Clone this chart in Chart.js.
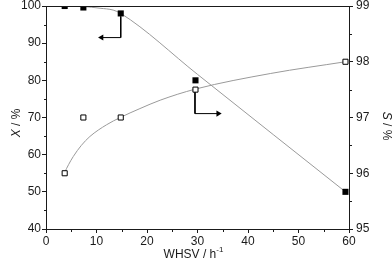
<!DOCTYPE html>
<html><head><meta charset="utf-8">
<script src="https://cdn.jsdelivr.net/npm/chart.js@4/dist/chart.umd.min.js"></script>
<style>html,body{margin:0;padding:0;background:#fff}canvas{display:block}</style>
</head><body><canvas id="c" width="392" height="266"></canvas>
<script>
// ---- data ----
const whsv = [3.7, 7.4, 14.8, 29.6, 59.3];
const conversion = [100, 99.6, 98, 80, 50];          // X / % (left axis)
const selectivity = [96.0, 97.0, 97.0, 97.5, 98.0];   // S / % (right axis)
const fitConvX = [3.7, 7.4, 10.7, 13.3, 14.8, 30, 45, 59.3];
const fitConvY = [100, 99.85, 99.4, 98.9, 98.0, 81.6, 65.4, 50];
const fitSelX = [3.6, 4.5, 5.4, 7.0, 8.7, 12.0, 14.7, 18.6, 22.6, 29.6, 44.5, 59.3];
const fitSelY = [96.0, 96.16, 96.3, 96.5, 96.66, 96.87, 97.0, 97.16, 97.31, 97.51, 97.79, 98.0];
const arrowConvX = [14.8, 14.8, 11.0];
const arrowConvY = [97.2, 91.5, 91.5];
const arrowSelX = [29.5, 29.5, 34.1];
const arrowSelY = [97.47, 97.07, 97.07];
const minorX = [5, 15, 25, 35, 45, 55];
const minorY = [45, 55, 65, 75, 85, 95];
const minorY2 = [95.5, 96.5, 97.5, 98.5];
const xTitle = ['WHSV / h', '-1'];
const yTitle = ['X', ' / %'];
const y2Title = ['S', ' / %'];

const pts = (xs, ys) => xs.map((x, i) => ({x, y: ys[i]}));
const FONT = "'Liberation Sans', Arial, sans-serif";
const INK = '#1a1a1a';

const extras = {
  id: 'extras',
  afterDraw(chart) {
    const {ctx, chartArea: a, scales} = chart;
    const al = v => Math.round(v) + 0.5;
    ctx.save();
    ctx.strokeStyle = INK; ctx.lineWidth = 1;
    ctx.strokeRect(al(a.left), al(a.top), Math.round(a.right) - Math.round(a.left), Math.round(a.bottom) - Math.round(a.top));
    ctx.beginPath();
    minorX.forEach(v => { const p = al(scales.x.getPixelForValue(v)); ctx.moveTo(p, al(a.bottom)); ctx.lineTo(p, al(a.bottom) + 2.5); });
    minorY.forEach(v => { const p = al(scales.y.getPixelForValue(v)); ctx.moveTo(al(a.left), p); ctx.lineTo(al(a.left) - 2.5, p); });
    minorY2.forEach(v => { const p = al(scales.y2.getPixelForValue(v)); ctx.moveTo(al(a.right), p); ctx.lineTo(al(a.right) + 2.5, p); });
    ctx.stroke();
    ctx.fillStyle = INK;
    ctx.textBaseline = 'alphabetic';
    function mixed(parts, cx, cy, rot) {
      ctx.save();
      ctx.translate(cx, cy); ctx.rotate(rot);
      ctx.font = 'italic 12px ' + FONT; const w1 = ctx.measureText(parts[0]).width;
      ctx.font = '12px ' + FONT; const w2 = ctx.measureText(parts[1]).width;
      const x0 = -(w1 + w2) / 2;
      ctx.font = 'italic 12px ' + FONT; ctx.fillText(parts[0], x0, 4);
      ctx.font = '12px ' + FONT; ctx.fillText(parts[1], x0 + w1, 4);
      ctx.restore();
    }
    mixed(yTitle, 16, 123, -Math.PI / 2);
    mixed(y2Title, 387, 126, Math.PI / 2);
    // x title with superscript
    ctx.font = '12px ' + FONT; const w1 = ctx.measureText(xTitle[0]).width;
    ctx.font = '8px ' + FONT; const w2 = ctx.measureText(xTitle[1]).width;
    const cx = (a.left + a.right) / 2 - 4;
    const x0 = cx - (w1 + w2) / 2;
    ctx.font = '12px ' + FONT; ctx.fillText(xTitle[0], x0, 257.5);
    ctx.font = '8px ' + FONT; ctx.fillText(xTitle[1], x0 + w1, 252);
    ctx.restore();
  }
};

const fit = (s, w, h) => { s.width = w === null ? s.width : w; if (h !== null) s.height = h; s.paddingTop = 0; s.paddingBottom = 0; s.paddingLeft = 0; s.paddingRight = 0; };

new Chart(document.getElementById('c'), {
  type: 'scatter',
  data: {
    datasets: [
      {data: pts(whsv, conversion), yAxisID: 'y', pointStyle: 'rect', pointRadius: 4.3, backgroundColor: '#000', borderColor: '#000', borderWidth: 0, showLine: false, order: 1},
      {data: pts(whsv, selectivity), yAxisID: 'y2', pointStyle: 'rect', pointRadius: 3.6, backgroundColor: '#fff', borderColor: '#000', borderWidth: 1, showLine: false, order: 1},
      {data: pts(fitConvX, fitConvY), yAxisID: 'y', showLine: true, pointRadius: 0, borderColor: '#9a9a9a', borderWidth: 1, cubicInterpolationMode: 'monotone', order: 3},
      {data: pts(fitSelX, fitSelY), yAxisID: 'y2', showLine: true, pointRadius: 0, borderColor: '#9a9a9a', borderWidth: 1, cubicInterpolationMode: 'monotone', order: 3},
      {data: pts(arrowConvX, arrowConvY), yAxisID: 'y', showLine: true, borderColor: '#000', borderWidth: 1, pointStyle: 'triangle', pointRotation: -90, pointRadius: [0, 0, 3.5], backgroundColor: '#000', pointBorderWidth: 0, order: 2},
      {data: pts(arrowSelX, arrowSelY), yAxisID: 'y2', showLine: true, borderColor: '#000', borderWidth: 1, pointStyle: 'triangle', pointRotation: 90, pointRadius: [0, 0, 3.5], backgroundColor: '#000', pointBorderWidth: 0, order: 2}
    ]
  },
  options: {
    responsive: false, animation: false, devicePixelRatio: 1,
    layout: {padding: {top: 6, left: 0, right: 0, bottom: 0}},
    plugins: {legend: {display: false}, tooltip: {enabled: false}},
    scales: {
      x: {type: 'linear', min: 0, max: 60, position: 'bottom',
        ticks: {stepSize: 10, color: INK, font: {family: FONT, size: 12}, padding: 1, maxRotation: 0},
        grid: {drawOnChartArea: false, drawTicks: true, tickLength: 4, color: INK},
        border: {display: false},
        afterFit: s => fit(s, null, 37)},
      y: {type: 'linear', min: 40, max: 100, position: 'left',
        ticks: {stepSize: 10, color: INK, font: {family: FONT, size: 12}, padding: 1},
        grid: {drawOnChartArea: false, drawTicks: true, tickLength: 4, color: INK},
        border: {display: false},
        afterFit: s => fit(s, 46, null)},
      y2: {type: 'linear', min: 95, max: 99, position: 'right',
        ticks: {stepSize: 1, color: INK, font: {family: FONT, size: 12}, padding: 3},
        grid: {drawOnChartArea: false, drawTicks: true, tickLength: 4, color: INK},
        border: {display: false},
        afterFit: s => fit(s, 43, null)}
    }
  },
  plugins: [extras]
});
</script></body></html>
